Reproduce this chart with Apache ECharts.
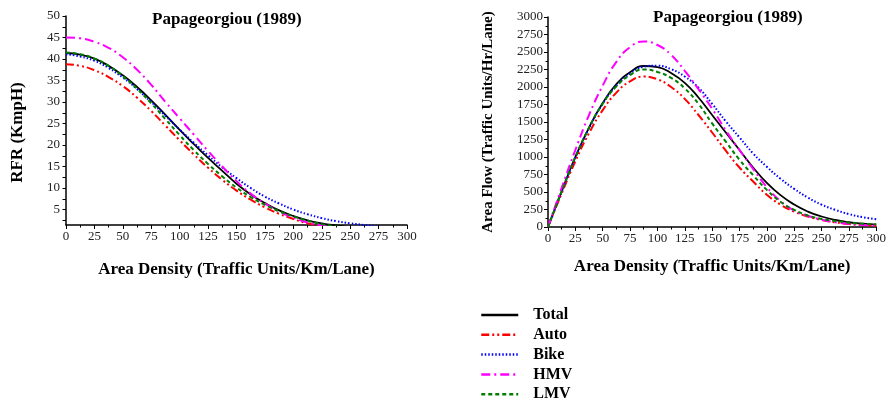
<!DOCTYPE html>
<html>
<head>
<meta charset="utf-8">
<script src="https://cdn.jsdelivr.net/npm/echarts@6/dist/echarts.min.js"></script>
<style>
html, body { margin: 0; background: #fff; }
#chart { width: 889px; height: 405px; }
</style>
</head>
<body>
<div id="chart"></div>
<script>
// area density (traffic units/km/lane)
var density = [0, 12.5, 25, 37.5, 50, 62.5, 75, 87.5, 100, 112.5, 125, 137.5, 150,
    162.5, 175, 187.5, 200, 212.5, 225, 237.5, 250, 262.5, 275, 287.5, 300];

// RFR (KmpH)
var rfrTotal = [41.4, 41.0, 40.1, 38.4, 36.2, 33.5, 30.4, 27.0, 23.5, 20.2, 17.0, 14.0, 11.0,
    8.5, 6.5, 4.8, 3.5, 2.5, 1.8, 1.3, 0.9, 0.6, 0.4, 0.3, 0.2];
var rfrAuto = [38.8, 38.4, 37.4, 35.8, 33.7, 31.0, 27.9, 24.5, 21.1, 17.8, 14.7, 11.9, 9.4,
    7.3, 5.5, 4.0, 2.8, 1.8, 1.2, 0.8, 0.6, 0.4, 0.3, 0.2, 0.2];
var rfrBike = [41.1, 40.6, 39.6, 37.9, 35.7, 33.0, 30.0, 26.8, 23.6, 20.5, 17.6, 14.8, 12.3,
    10.0, 8.0, 6.4, 5.0, 3.9, 3.0, 2.3, 1.8, 1.4, 1.0, 0.7, 0.5];
var rfrHMV = [45.0, 44.8, 44.0, 42.6, 40.4, 37.5, 34.0, 30.0, 26.2, 22.4, 18.6, 15.0, 11.6,
    8.7, 6.4, 4.5, 3.1, 2.0, 1.3, 0.8, 0.5, 0.3, 0.2, 0.2, 0.1];
var rfrLMV = [41.5, 41.1, 40.1, 38.4, 36.0, 33.1, 29.7, 26.0, 22.3, 18.8, 15.6, 12.7, 10.1,
    7.9, 6.1, 4.6, 3.4, 2.4, 1.6, 1.1, 0.8, 0.5, 0.4, 0.3, 0.2];

// area flow (traffic units/hr/lane)
var flowTotal = [0, 510, 1000, 1420, 1770, 2040, 2210, 2300, 2285, 2200, 2060, 1850, 1600,
    1350, 1100, 850, 630, 455, 320, 220, 150, 100, 68, 48, 35];
var flowAuto = [0, 480, 940, 1340, 1670, 1920, 2080, 2150, 2110, 2000, 1830, 1600, 1350,
    1090, 850, 650, 460, 320, 220, 150, 100, 65, 42, 28, 18];
var flowBike = [0, 505, 990, 1410, 1760, 2020, 2190, 2290, 2305, 2255, 2150, 1990, 1760,
    1510, 1280, 1050, 860, 690, 545, 420, 320, 245, 185, 140, 110];
var flowHMV = [0, 560, 1100, 1600, 2020, 2360, 2570, 2650, 2600, 2460, 2230, 1970, 1690,
    1380, 1100, 830, 570, 370, 235, 160, 105, 68, 44, 30, 20];
var flowLMV = [0, 510, 1000, 1420, 1760, 2010, 2170, 2250, 2215, 2130, 1980, 1760, 1480,
    1220, 960, 740, 530, 360, 245, 165, 115, 85, 62, 48, 38];

var rfrTicks = [5, 10, 15, 20, 25, 30, 35, 40, 45, 50];
var rfrMinorTicks = [2.5, 5, 7.5, 10, 12.5, 15, 17.5, 20, 22.5, 25, 27.5, 30, 32.5, 35, 37.5, 40, 42.5, 45, 47.5, 50];

var serif = 'Liberation Serif';

function pairs(ys) {
    var out = [];
    for (var i = 0; i < ys.length; i++) {
        out.push([density[i], ys[i]]);
    }
    return out;
}

// colour, dash, width
var styles = {
    Total: ['#000000', 'solid', 1.8],
    Auto: ['#ff0000', [8, 3, 2, 3, 2, 3], 2],
    Bike: ['#0000ff', [1.5, 2], 2],
    HMV: ['#ff00ff', [9, 4, 2, 4], 2],
    LMV: ['#008000', [4, 3], 2]
};

function makeSeries(name, data, idx) {
    var s = styles[name];
    return {
        name: name,
        type: 'line',
        xAxisIndex: idx,
        yAxisIndex: idx,
        smooth: true,
        symbol: 'none',
        data: pairs(data),
        itemStyle: { color: s[0] },
        lineStyle: { color: s[0], type: s[1], width: s[2] }
    };
}

function plain(v) { return String(v); }

function xAxisOf(idx, gap) {
    return {
        gridIndex: idx,
        type: 'value',
        min: 0,
        max: 300,
        interval: 25,
        axisLine: { show: true, onZero: false, lineStyle: { color: '#000', width: 1.5 } },
        axisTick: { show: true, length: 4, lineStyle: { color: '#000' } },
        minorTick: { show: true, splitNumber: 2, length: 2.5, lineStyle: { color: '#000' } },
        splitLine: { show: false },
        axisLabel: { color: '#222', fontFamily: serif, fontSize: 13, margin: 5, formatter: plain },
        name: 'Area Density (Traffic Units/Km/Lane)',
        nameLocation: 'middle',
        nameGap: gap,
        nameTextStyle: { fontFamily: serif, fontWeight: 'bold', fontSize: 17, color: '#000' }
    };
}

var chart = echarts.init(document.getElementById('chart'));

var option = {
    backgroundColor: '#fff',
    animation: false,
    title: [
        {
            text: 'Papageorgiou (1989)',
            left: 152, top: 11, padding: 0,
            textStyle: { fontFamily: serif, fontWeight: 'bold', fontSize: 17, color: '#000' }
        },
        {
            text: 'Papageorgiou (1989)',
            left: 653, top: 9, padding: 0,
            textStyle: { fontFamily: serif, fontWeight: 'bold', fontSize: 17, color: '#000' }
        }
    ],
    legend: {
        orient: 'vertical',
        left: 480,
        top: 307,
        itemWidth: 37,
        itemHeight: 14,
        itemGap: 3.8,
        padding: 0,
        data: ['Total', 'Auto', 'Bike', 'HMV', 'LMV'],
        itemStyle: { opacity: 0 },
        lineStyle: { width: 2.5 },
        textStyle: { fontFamily: serif, fontWeight: 'bold', fontSize: 16, color: '#000', padding: [0, 0, 0, 10] }
    },
    grid: [
        { left: 66, top: 16, width: 341, height: 209 },
        { left: 548, top: 17, width: 330, height: 210 }
    ],
    xAxis: [xAxisOf(0, 36), xAxisOf(1, 31)],
    yAxis: [
        {
            gridIndex: 0,
            type: 'value',
            min: 1.4,
            max: 50,
            axisLine: { show: true, lineStyle: { color: '#000', width: 1.5 } },
            axisTick: { show: true, length: 3.5, customValues: rfrMinorTicks, lineStyle: { color: '#000' } },
            splitLine: { show: false },
            axisLabel: { customValues: rfrTicks, color: '#222', fontFamily: serif, fontSize: 13, margin: 6 },
            name: 'RFR (KmpH)',
            nameLocation: 'middle',
            nameGap: 40,
            nameTextStyle: { fontFamily: serif, fontWeight: 'bold', fontSize: 17, color: '#000', padding: [0, 24, 0, 0] }
        },
        {
            gridIndex: 1,
            type: 'value',
            min: 0,
            max: 3000,
            interval: 250,
            axisLine: { show: true, lineStyle: { color: '#000', width: 1.5 } },
            axisTick: { show: true, length: 4, lineStyle: { color: '#000' } },
            minorTick: { show: true, splitNumber: 2, length: 2.5, lineStyle: { color: '#000' } },
            splitLine: { show: false },
            axisLabel: { color: '#222', fontFamily: serif, fontSize: 13, margin: 5, formatter: plain },
            name: 'Area Flow (Traffic Units/Hr/Lane)',
            nameLocation: 'middle',
            nameGap: 52,
            nameTextStyle: { fontFamily: serif, fontWeight: 'bold', fontSize: 15, color: '#000' }
        }
    ],
    series: [
        makeSeries('Total', rfrTotal, 0),
        makeSeries('Auto', rfrAuto, 0),
        makeSeries('Bike', rfrBike, 0),
        makeSeries('HMV', rfrHMV, 0),
        makeSeries('LMV', rfrLMV, 0),
        makeSeries('Total', flowTotal, 1),
        makeSeries('Auto', flowAuto, 1),
        makeSeries('Bike', flowBike, 1),
        makeSeries('HMV', flowHMV, 1),
        makeSeries('LMV', flowLMV, 1)
    ]
};

chart.setOption(option);
</script>
</body>
</html>
